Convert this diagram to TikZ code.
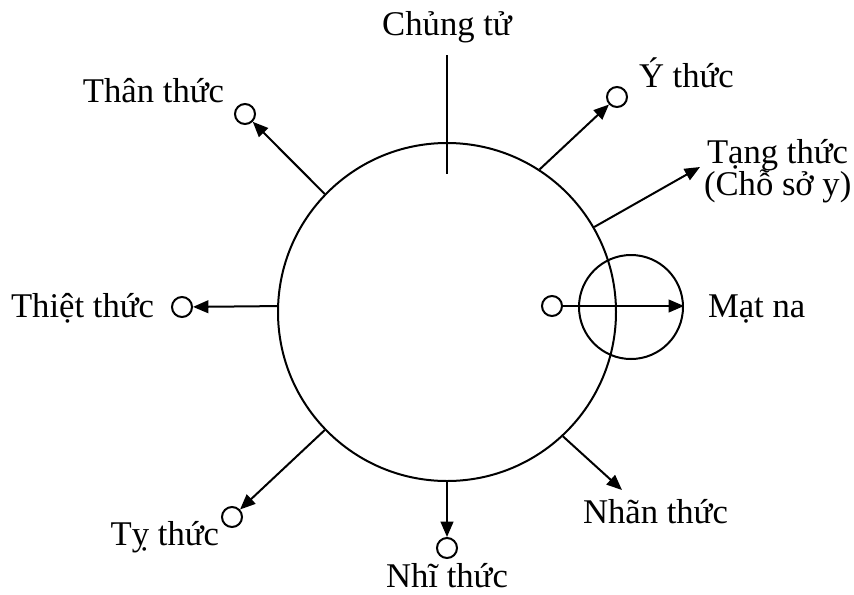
\documentclass[tikz,border=0pt]{standalone}
\usepackage{fontspec}
\setmainfont{Liberation Serif}
\usetikzlibrary{arrows.meta,positioning}

\begin{document}
\begin{tikzpicture}[x=0.75pt, y=-0.75pt, line width=1.5pt,
        every node/.style={font=\fontsize{26}{32}\selectfont},
        ring/.style={circle,draw,inner sep=0pt},
        marker/.style={circle,draw,inner sep=0pt,minimum size=15pt},
        lbl/.style={inner sep=0pt},
        arrow/.style={-{Triangle[length=11.5pt,width=9.5pt]}}]
        \useasboundingbox (0,0) rectangle (854,594);
        % circles
        \node[ring,minimum size=253.5pt] (main) at (447,312) {};
        \node[ring,minimum size=78pt] (mn) at (631,307) {};
        % end markers
        \node[marker] (than) at (245,114) {};
        \node[marker] (y) at (617,97) {};
        \node[marker] (thiet) at (182,307) {};
        \node[marker] (mat) at (552,306) {};
        \node[marker] (nhi) at (447,548) {};
        \node[marker] (ty) at (232,517) {};
        \coordinate (ct1) at (447,55);
        \coordinate (ct2) at (447,174);
        \coordinate (tang) at (700,167);
        \coordinate (nhan) at (622,490);
        % labels
        \node[lbl,anchor=base] (lchung) at (447,35) {Chủng tử};
        \node[lbl,anchor=base east] (lthan) at (225,102) {Thân thức};
        \node[lbl,anchor=base west] (ly) at (638,87) {Ý thức};
        \node[lbl,anchor=base west] (ltang) at (706,163) {Tạng thức};
        \node[lbl,anchor=base west] (ltang2) at (703,195) {(Chỗ sở y)};
        \node[lbl,anchor=base west] (lmat) at (707,317) {Mạt na};
        \node[lbl,anchor=base east] (lthiet) at (155,317) {Thiệt thức};
        \node[lbl,anchor=base west] (lnhan) at (582,523) {Nhãn thức};
        \node[lbl,anchor=base] (lnhi) at (447,587) {Nhĩ thức};
        \node[lbl,anchor=base east] (lty) at (220,545) {Tỵ thức};
        % connectors
        \draw (ct1) -- (ct2);
        \draw[arrow] (main.136) -- (than);
        \draw[arrow] (main.57) -- (y);
        \draw[arrow] (main.30) -- (tang);
        \draw[arrow] (main.178) -- (thiet);
        \draw[arrow] (mat) -- (mat -| mn.east);
        \draw[arrow] (main.313) -- (nhan);
        \draw[arrow] (main.south) -- (nhi);
        \draw[arrow] (main.224) -- (ty);
      \end{tikzpicture}
\end{document}
